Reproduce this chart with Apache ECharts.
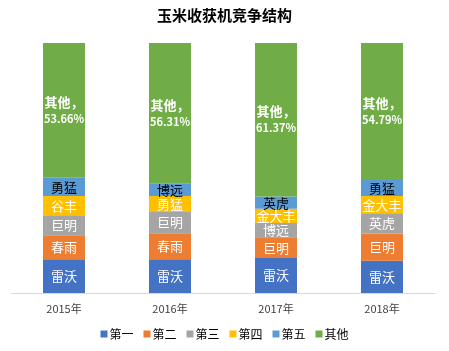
<!DOCTYPE html>
<html lang="zh">
<head>
    <meta charset="UTF-8">
    <title>玉米收获机竞争结构</title>
    <script src="https://cdn.jsdelivr.net/npm/echarts@6/dist/echarts.min.js"></script>
    <style>
        html, body {
            margin: 0;
            padding: 0;
            background: #fff;
        }

        #chart {
            width: 449px;
            height: 351px;
        }
    </style>
</head>
<body>
<div id="chart"></div>
<script>
    // 年份
    var years = ['2015年', '2016年', '2017年', '2018年']
    var rankNames = ['第一', '第二', '第三', '第四', '第五', '其他']
    var colors = ['#4472c4', '#ed7d31', '#a5a5a5', '#ffc000', '#5b9bd5', '#70ad47']

    // 各名次份额(%)
    var share1 = [13.5, 13.5, 14.0, 12.9]
    var share2 = [9.6, 10.4, 8.3, 10.9]
    var share3 = [8.0, 8.8, 5.7, 8.1]
    var share4 = [7.7, 6.1, 5.7, 6.9]
    var share5 = [7.54, 4.89, 4.93, 6.41]
    var shareOther = [53.66, 56.31, 61.37, 54.79]

    // 各名次品牌
    var brand1 = ['雷沃', '雷沃', '雷沃', '雷沃']
    var brand2 = ['春雨', '春雨', '巨明', '巨明']
    var brand3 = ['巨明', '巨明', '博远', '英虎']
    var brand4 = ['谷丰', '勇猛', '金大丰', '金大丰']
    var brand5 = ['勇猛', '博远', '英虎', '勇猛']

    var shares = [share1, share2, share3, share4, share5, shareOther]
    var brands = [brand1, brand2, brand3, brand4, brand5]
    var font = '"Noto Sans CJK SC", "Microsoft YaHei", sans-serif'

    var series = shares.map(function (list, i) {
        var isOther = i === 5
        return {
            name: rankNames[i],
            type: 'bar',
            stack: 'total',
            barWidth: 42,
            itemStyle: {color: colors[i]},
            data: list,
            label: {
                show: true,
                position: 'inside',
                fontFamily: font,
                fontSize: isOther ? 11 : 13,
                fontWeight: isOther ? 'bold' : 'normal',
                lineHeight: isOther ? 17 : 14,
                color: i === 4 ? '#000' : '#fff',
                rich: {
                    big: {fontSize: 13, fontWeight: 'bold', color: '#fff', fontFamily: font}
                },
                formatter: function (p) {
                    if (isOther) return '{big|其他，}\n' + p.value.toFixed(2) + '%'
                    return brands[i][p.dataIndex]
                }
            }
        }
    })

    var chart = echarts.init(document.getElementById('chart'))
    chart.setOption({
        animation: false,
        title: {
            text: '玉米收获机竞争结构',
            left: 'center',
            top: 3,
            textStyle: {fontFamily: font, fontSize: 15, fontWeight: 'bold', color: '#000'}
        },
        legend: {
            data: rankNames,
            bottom: 6,
            left: 'center',
            icon: 'rect',
            itemWidth: 7,
            itemHeight: 7,
            itemGap: 10,
            textStyle: {fontFamily: font, fontSize: 12, color: '#000', padding: [0, 0, 0, -3]}
        },
        grid: {left: 11, right: 14, top: 43, bottom: 58},
        xAxis: {
            type: 'category',
            data: years,
            axisLine: {lineStyle: {color: '#d9d9d9'}},
            axisTick: {show: false},
            axisLabel: {fontFamily: font, fontSize: 11, color: '#404040', margin: 10}
        },
        yAxis: {
            type: 'value',
            min: 0,
            max: 100,
            show: false
        },
        series: series
    })
</script>
</body>
</html>
